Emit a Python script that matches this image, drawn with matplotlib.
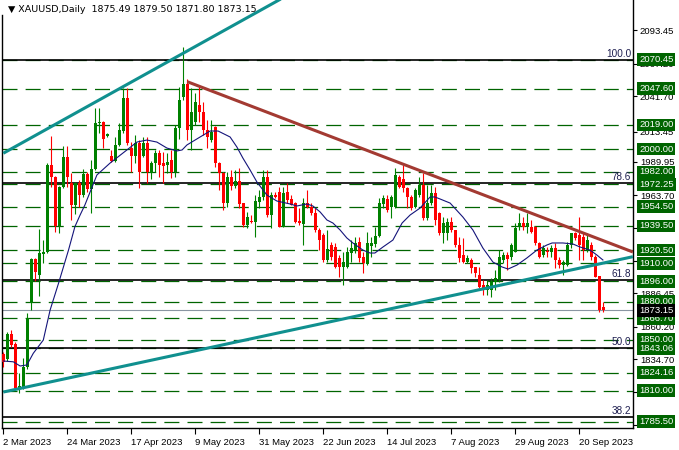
import numpy as np
import matplotlib
matplotlib.use("Agg")
import matplotlib.pyplot as plt
import matplotlib.transforms as mtransforms

plt.rcParams['font.family'] = ['Liberation Sans', 'DejaVu Sans']

# XAUUSD daily bars (index 0 = 2 Mar 2023)
opens = [1838.7, 1834.5, 1854.2, 1846.6, 1811.7, 1811.7, 1828.7, 1879.1, 1913.2, 1900.9,
         1917.4, 1919.2, 1987.4, 1978.2, 1939.4, 1970.4, 1993.5, 1973.0, 1956.0, 1973.0,
         1963.8, 1980.1, 1968.3, 1984.1, 2020.3, 2021.5, 2010.3, 1994.5, 1990.8, 2003.2,
         2014.4, 2039.9, 2000.6, 1994.5, 2005.0, 1994.5, 2005.0, 1981.4, 1988.8, 1996.7,
         1988.8, 1987.4, 1991.4, 1982.2, 2016.3, 2041.2, 2051.0, 2015.0, 2021.5, 2034.7,
         2029.4, 2015.0, 2007.1, 2017.6, 1988.8, 1981.4, 1957.3, 1977.8, 1970.9, 1974.9,
         1957.3, 1940.2, 1943.6, 1942.8, 1958.6, 1962.5, 1977.8, 1948.1, 1963.8, 1966.4,
         1938.9, 1966.4, 1960.5, 1957.3, 1943.6, 1941.0, 1957.3, 1954.6, 1949.4, 1936.3,
         1932.4, 1912.7, 1924.5, 1922.7, 1914.0, 1907.4, 1907.4, 1917.9, 1920.5, 1927.1,
         1915.3, 1909.5, 1923.7, 1925.3, 1931.8, 1956.8, 1960.5, 1954.6, 1954.6, 1978.2,
         1976.2, 1969.1, 1962.0, 1954.2, 1963.8, 1971.7, 1945.5, 1957.3, 1965.2, 1949.4,
         1933.7, 1933.7, 1942.8, 1936.3, 1924.5, 1916.6, 1911.3, 1912.7, 1906.9, 1900.9,
         1893.0, 1889.1, 1889.1, 1895.6, 1896.9, 1912.7, 1916.6, 1915.3, 1919.2, 1938.9,
         1942.0, 1938.9, 1938.9, 1938.9, 1925.8, 1916.6, 1920.0, 1919.2, 1921.9, 1912.7,
         1908.7, 1908.7, 1924.5, 1933.7, 1932.4, 1930.5, 1920.5, 1924.5, 1915.3, 1900.1,
         1875.49]
highs = [1840.5, 1856.2, 1857.6, 1848.4, 1823.5, 1835.8, 1870.7, 1914.5, 1914.5, 1936.8,
         1928.4, 1988.8, 2010.3, 1979.0, 1971.0, 2002.4, 2002.4, 1980.9, 1974.1, 1975.6,
         1984.3, 1982.2, 1991.4, 2032.3, 2032.3, 2022.0, 2012.6, 1999.3, 2009.7, 2020.3,
         2048.0, 2048.0, 2005.8, 2011.1, 2007.1, 2009.7, 2009.7, 1990.8, 1999.3, 1999.3,
         1997.9, 1996.7, 1999.3, 2018.9, 2049.1, 2080.3, 2054.9, 2047.8, 2043.9, 2049.1,
         2037.3, 2022.9, 2022.9, 2018.0, 1990.0, 1982.2, 1982.2, 1983.5, 1983.5, 1985.1,
         1957.6, 1950.7, 1948.1, 1963.8, 1967.8, 1983.5, 1983.5, 1966.4, 1966.4, 1970.4,
         1970.4, 1973.0, 1963.8, 1958.6, 1953.4, 1961.2, 1967.8, 1957.3, 1953.4, 1937.6,
         1933.7, 1936.3, 1927.1, 1925.8, 1916.6, 1919.2, 1923.1, 1928.4, 1931.0, 1931.0,
         1919.2, 1935.0, 1931.0, 1938.9, 1961.2, 1963.8, 1963.8, 1963.8, 1984.9, 1979.6,
         1987.4, 1970.4, 1963.8, 1969.1, 1978.2, 1980.9, 1971.7, 1971.7, 1970.4, 1950.7,
         1946.8, 1945.5, 1946.8, 1936.6, 1931.0, 1929.8, 1916.6, 1914.0, 1907.4, 1906.9,
         1896.9, 1896.9, 1898.3, 1904.8, 1920.5, 1919.2, 1919.2, 1925.8, 1941.6, 1949.4,
         1946.8, 1949.4, 1944.2, 1939.3, 1927.1, 1924.5, 1923.1, 1924.5, 1925.8, 1915.3,
         1912.7, 1927.1, 1934.0, 1935.0, 1946.8, 1933.7, 1933.7, 1927.1, 1916.6, 1900.5,
         1879.50]
lows = [1828.7, 1833.2, 1844.5, 1810.9, 1808.2, 1810.9, 1826.6, 1873.3, 1896.4, 1884.4,
        1910.3, 1917.9, 1970.4, 1935.0, 1933.7, 1969.3, 1970.4, 1944.2, 1948.9, 1954.6,
        1962.5, 1966.4, 1949.7, 1983.5, 2012.6, 2000.8, 2009.5, 1990.0, 1990.0, 2002.8,
        2012.6, 2003.2, 1982.2, 1989.0, 1969.3, 1994.0, 1973.3, 1976.2, 1982.2, 1978.2,
        1973.0, 1980.9, 1977.0, 1978.2, 2007.7, 2038.6, 2007.1, 1999.3, 2018.9, 2021.5,
        2011.1, 2000.6, 2005.8, 1986.1, 1967.8, 1952.0, 1954.6, 1967.8, 1969.3, 1953.6,
        1938.9, 1937.6, 1941.6, 1931.0, 1953.4, 1959.9, 1946.8, 1937.6, 1961.2, 1938.4,
        1938.4, 1957.3, 1955.6, 1941.6, 1940.2, 1924.5, 1953.4, 1948.1, 1935.0, 1920.5,
        1911.3, 1911.3, 1912.7, 1906.4, 1899.5, 1893.0, 1906.4, 1911.3, 1917.9, 1911.3,
        1902.2, 1908.7, 1915.3, 1923.1, 1931.0, 1953.4, 1950.7, 1945.5, 1953.4, 1969.1,
        1966.4, 1953.4, 1952.0, 1953.4, 1962.5, 1944.2, 1944.2, 1956.0, 1940.2, 1932.4,
        1925.8, 1928.4, 1935.0, 1923.1, 1911.3, 1910.1, 1910.1, 1902.2, 1899.5, 1890.4,
        1885.1, 1885.1, 1883.8, 1889.1, 1895.6, 1910.1, 1904.8, 1912.7, 1918.8, 1936.3,
        1936.3, 1933.7, 1933.7, 1924.5, 1914.0, 1915.3, 1915.3, 1915.3, 1906.1, 1906.1,
        1900.9, 1908.3, 1921.9, 1928.4, 1912.7, 1912.7, 1919.2, 1912.7, 1899.1, 1872.0,
        1871.80]
closes = [1832.6, 1854.4, 1845.8, 1811.7, 1813.5, 1828.7, 1866.8, 1913.2, 1903.5, 1917.9,
          1919.2, 1987.4, 1978.2, 1939.4, 1970.4, 1993.5, 1978.2, 1956.0, 1973.0, 1963.8,
          1980.1, 1968.3, 1984.1, 2020.3, 2021.5, 2007.7, 2011.6, 1990.8, 2003.2, 2015.0,
          2039.9, 2004.5, 1994.5, 2005.0, 1982.2, 2005.0, 1982.2, 1988.8, 1996.7, 1987.4,
          1986.7, 1990.0, 1982.2, 2016.3, 2038.6, 2051.0, 2015.0, 2029.4, 2037.3, 2029.4,
          2015.0, 2009.7, 2013.7, 1988.8, 1981.4, 1957.3, 1977.8, 1970.9, 1974.9, 1956.8,
          1940.2, 1946.8, 1942.8, 1959.1, 1962.5, 1977.8, 1948.1, 1963.8, 1962.0, 1938.9,
          1965.2, 1959.9, 1956.0, 1942.8, 1941.6, 1957.3, 1954.6, 1949.4, 1936.3, 1928.4,
          1912.7, 1921.1, 1915.3, 1907.4, 1906.9, 1911.3, 1919.2, 1921.9, 1925.8, 1914.0,
          1910.1, 1925.8, 1925.8, 1931.8, 1957.8, 1961.2, 1952.0, 1962.5, 1979.6, 1970.4,
          1969.1, 1962.0, 1953.4, 1967.8, 1971.7, 1945.5, 1957.3, 1965.2, 1944.2, 1933.7,
          1941.6, 1942.8, 1936.3, 1924.5, 1914.0, 1911.3, 1914.0, 1906.1, 1902.2, 1891.2,
          1889.1, 1893.0, 1895.6, 1898.3, 1915.3, 1916.6, 1913.2, 1924.5, 1937.6, 1942.0,
          1938.9, 1942.0, 1935.0, 1925.8, 1915.3, 1921.9, 1919.2, 1921.9, 1912.7, 1908.7,
          1911.3, 1924.5, 1933.7, 1929.8, 1924.5, 1920.5, 1928.4, 1915.3, 1899.5, 1873.3,
          1873.15]

# moving average readings (bar, price)
ma_bar = [0.0, 2.5, 4.2, 5.9, 7.5, 10.0, 11.7, 13.8, 16.3, 17.9, 19.2, 20.4, 23.4, 26.7,
          30.9, 33.4, 35.9, 38.4, 40.9, 43.4, 44.7, 45.9, 49.2, 51.7, 53.7, 56.7, 58.4,
          59.9, 61.7, 63.4, 65.9, 68.4, 71.7, 73.4, 75.9, 77.4, 79.2, 80.9, 82.4, 84.2,
          85.9, 87.4, 89.9, 91.7, 92.9, 94.9, 97.4, 99.7, 101.7, 104.2, 106.7, 107.9,
          109.2, 111.7, 114.9, 117.4, 119.9, 122.4, 124.7, 126.2, 128.4, 130.9, 133.4,
          135.9, 137.2, 139.9, 142.4, 144.2, 146.7, 148.4, 149.9]
ma_val = [1833.2, 1832.6, 1829.3, 1830.1, 1839.3, 1849.7, 1873.3, 1894.3, 1920.5, 1938.9,
          1948.1, 1956.0, 1979.6, 1989.0, 1999.3, 2005.5, 2007.1, 2005.5, 2000.8, 1998.5,
          1999.3, 2003.2, 2009.5, 2014.2, 2014.2, 2009.5, 2001.6, 1992.9, 1983.5, 1974.1,
          1963.8, 1959.1, 1956.8, 1955.2, 1956.8, 1955.2, 1950.5, 1944.2, 1941.8, 1936.3,
          1930.0, 1926.1, 1920.5, 1918.2, 1918.2, 1922.9, 1928.4, 1941.8, 1948.1, 1953.6,
          1962.3, 1962.3, 1960.7, 1957.5, 1946.5, 1936.3, 1922.1, 1911.1, 1907.2, 1905.6,
          1908.7, 1914.3, 1920.5, 1924.5, 1926.1, 1926.1, 1925.3, 1922.9, 1920.5, 1916.6,
          1912.7]

# horizontal levels
levels = [2070.45, 2047.60, 2019.00, 2000.00, 1982.00, 1972.25, 1954.50, 1939.50,
          1920.50, 1910.00, 1896.00, 1880.00, 1866.70, 1850.00, 1843.06, 1824.16,
          1810.00, 1785.50]
fib_prices = [2070.45, 1973.13, 1896.72, 1843.06, 1789.40]
fib_names = ["100.0", "78.6", "61.8", "50.0", "38.2"]
last_price = 1873.15

# trend lines: (bar0, price0, bar1, price1)
upper_channel = (0, 1996.7, 70, 2119.2)
lower_channel = (0, 1808.8, 157.4, 1915.3)
down_trend = (46, 2053.0, 157.4, 1919.0)

price_ticks = [2093.45, 2067.20, 2041.70, 2013.45, 1989.95, 1963.70, 1937.95, 1912.20,
               1886.45, 1860.20, 1834.70, 1808.95, 1782.95]
date_pos = [0, 16, 32, 48, 64, 80, 96, 112, 128, 144]
date_labels = ["2 Mar 2023", "24 Mar 2023", "17 Apr 2023", "9 May 2023", "31 May 2023",
               "22 Jun 2023", "14 Jul 2023", "7 Aug 2023", "29 Aug 2023", "20 Sep 2023"]

W, H = 679, 450
fig = plt.figure(figsize=(W / 100, H / 100), dpi=100)
ax = fig.add_axes([2 / W, 22 / H, 631 / W, 428 / H])

fs = 6.8
green_box = '#006400'
btr = mtransforms.blended_transform_factory(ax.transAxes, ax.transData)

# levels
for lv in levels:
    ax.axhline(lv, color=green_box, lw=0.9, dashes=(12, 6.5), zorder=1)
for fp, fn in zip(fib_prices, fib_names):
    ax.axhline(fp, color='black', lw=1.2, zorder=1.1)
    ax.text(0.997, fp + 0.8, fn, transform=btr, ha='right', va='bottom',
            fontsize=fs + 0.4, color='#1e1e50', zorder=5)
ax.axhline(last_price, color='#8a96a2', lw=0.8, zorder=1.2)

# candles
o = np.array(opens)
h = np.array(highs)
l = np.array(lows)
c = np.array(closes)
x = np.arange(len(o))
col = np.where(c >= o, '#008000', '#ff0000')
ax.vlines(x, l, h, colors=col, lw=0.8, zorder=3)
body = np.maximum(np.abs(c - o), 0.8)
ax.bar(x, body, bottom=np.minimum(o, c), width=0.75, color=col, linewidth=0, zorder=3)

# moving average
ax.plot(ma_bar, ma_val, color='#14147a', lw=0.8, zorder=4)

# trend lines
for tl, tc in [(upper_channel, '#10908f'), (lower_channel, '#10908f'), (down_trend, '#a33a32')]:
    ax.plot([tl[0], tl[2]], [tl[1], tl[3]], color=tc, lw=2.2, zorder=4, solid_capstyle='butt')

ax.set_xlim(-0.325, 157.425)
ax.set_ylim(1780.5, 2117.3)

ax.spines['top'].set_visible(False)
for s in ['left', 'bottom', 'right']:
    ax.spines[s].set_linewidth(1.0)
# title area is left open in the terminal window
ax.spines['left'].set_bounds(1780.5, 2105.5)

ax.yaxis.tick_right()
ax.set_yticks(price_ticks)
ax.set_yticklabels([f"{v:.2f}" for v in price_ticks])
ax.tick_params(axis='y', length=3, width=0.8, pad=2, labelsize=fs)
ax.set_xticks(date_pos)
ax.set_xticklabels(date_labels, ha='left')
ax.tick_params(axis='x', length=4, width=0.8, pad=3, labelsize=fs)

# boxed price labels
for lv in levels:
    ax.text(1.0095, lv, f"{lv:.2f}", transform=btr, ha='left', va='center', fontsize=fs,
            color='white', clip_on=False, zorder=10,
            bbox=dict(boxstyle='square,pad=0.2', fc=green_box, ec='none'))
ax.text(1.0095, last_price, f"{last_price:.2f}", transform=btr, ha='left', va='center', fontsize=fs,
        color='white', clip_on=False, zorder=11,
        bbox=dict(boxstyle='square,pad=0.2', fc='black', ec='none'))

fig.text(8 / W, 1 - 10 / H, "\u25bc XAUUSD,Daily  1875.49 1879.50 1871.80 1873.15",
         ha='left', va='center', fontsize=fs, family=['DejaVu Sans'], color='black')

fig.savefig("out.png", dpi=100)
